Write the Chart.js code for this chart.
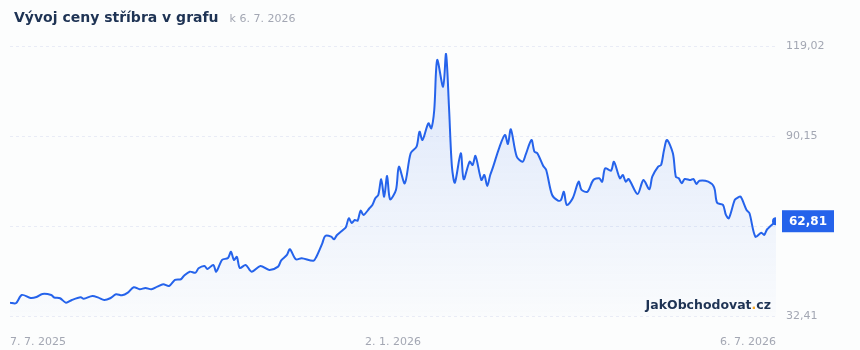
<!DOCTYPE html>
<html lang="cs">
  <head>
    <meta charset="UTF-8" />
    <title>Vývoj ceny stříbra v grafu</title>
    <script src="https://cdn.jsdelivr.net/npm/chart.js"></script>
    <style>
      body {
        margin: 0;
        padding: 0;
        background: #fcfdfd;
        font-family: "DejaVu Sans", sans-serif;
      }
      .wrap {
        position: relative;
        width: 860px;
        height: 350px;
      }
      .title {
        position: absolute;
        left: 14px;
        top: 9px;
        line-height: 16px;
        white-space: nowrap;
      }
      .title b {
        font-size: 14px;
        color: #1e3354;
      }
      .title span {
        font-size: 11px;
        color: #a3a7b3;
        margin-left: 11px;
      }
      canvas {
        position: absolute;
        left: 0;
        top: 0;
      }
    </style>
  </head>
  <body>
    <div class="wrap">
      <canvas id="chart" width="860" height="350"></canvas>
      <div class="title"><b>Vývoj ceny stříbra v grafu</b><span>k 6. 7. 2026</span></div>
    </div>

    <script>
      // trading day index (0 = 7. 7. 2025, 260 = 6. 7. 2026)
      const days = [
        0, 2, 4, 7, 9, 11, 14, 15, 17, 19, 21, 24, 25, 28, 30, 32, 34, 36, 38, 40,
        42, 44, 46, 48, 50, 52, 54, 56, 58, 59, 61, 63, 64, 66, 67, 69, 70, 72, 74, 75,
        76, 77, 78, 80, 82, 85, 88, 91, 92, 94, 95, 97, 99, 103, 104, 106, 107, 109, 110, 111,
        113, 114, 115, 116, 117, 118, 119, 120, 122, 123, 124, 125, 126, 127, 128, 129, 131, 132, 134, 136,
        138, 139, 140, 142, 143, 144, 145, 147, 148, 149, 150, 151, 153, 154, 156, 157, 158, 160, 161, 162,
        163, 164, 166, 168, 169, 170, 172, 174, 175, 177, 178, 179, 181, 182, 184, 186, 187, 188, 189, 191,
        193, 194, 196, 198, 200, 201, 202, 204, 205, 207, 208, 209, 210, 213, 215, 217, 218, 220, 221, 222,
        223, 225, 226, 227, 228, 229, 231, 232, 233, 234, 237, 239, 240, 242, 243, 244, 246, 247, 248, 250,
        251, 253, 255, 256, 257, 260,
      ];
      // cena stříbra (USD/oz)
      const prices = [
        36.69, 36.5, 39.16, 38.2, 38.52, 39.48, 39.16, 38.36, 38.1, 36.69, 37.56, 38.42, 37.97, 38.84, 38.3, 37.56, 38.1, 39.39, 39.06, 39.9,
        41.63, 40.99, 41.41, 40.99, 41.82, 42.59, 42.05, 43.97, 44.2, 45.25, 46.63, 46.31, 47.72, 48.46, 47.5, 48.78, 46.63, 50.39, 51.03, 53.05,
        50.39, 51.35, 47.82, 48.78, 46.63, 48.46, 47.18, 48.24, 50.16, 51.99, 53.82, 50.61, 50.93, 50.16, 51.44, 55.74, 58.08, 57.86, 57.02, 58.4,
        60.01, 60.87, 63.76, 62.25, 63.21, 62.99, 66.2, 64.82, 66.97, 68.03, 70.17, 71.23, 76.27, 70.69, 77.33, 69.85, 72.84, 80.31, 74.98, 84.61,
        86.72, 91.53, 88.87, 94.23, 92.62, 98.49, 114.53, 105.97, 116.45, 99.55, 80.31, 75.18, 84.61, 76.27, 81.91, 80.85, 83.74, 76.04, 77.65, 74.12,
        77.65, 80.31, 86.21, 90.48, 87.59, 92.3, 83.52, 81.91, 84.06, 88.87, 85.12, 84.61, 80.53, 79.25, 71.23, 69.4, 69.63, 72.29, 68.03, 70.17,
        75.5, 72.84, 72.29, 76.04, 76.59, 75.5, 79.8, 79.03, 81.91, 76.59, 77.65, 75.5, 76.36, 71.55, 76.04, 73.06, 77.1, 80.31, 80.85, 85.67,
        88.87, 84.61, 77.1, 76.59, 74.98, 76.36, 76.04, 76.36, 74.76, 75.82, 75.5, 73.7, 68.76, 68.03, 64.82, 63.76, 69.63, 70.37, 70.69, 66.42,
        65.36, 57.86, 59.14, 58.4, 60.23, 62.81,
      ];
      const xTicks = [0, 130, 260];
      const xTickLabels = ["7. 7. 2025", "2. 1. 2026", "6. 7. 2026"];
      const yTicks = [32.41, 61.28, 90.15, 119.02];

      const blue = "#2563eb";
      const lastIdx = prices.length - 1;
      const lastPrice = prices[lastIdx];
      const fmt = (v) => v.toFixed(2).replace(".", ",");

      const badgePlugin = {
        id: "badge",
        afterDatasetsDraw(chart) {
          const { ctx, chartArea } = chart;
          const pt = chart.getDatasetMeta(0).data[lastIdx];
          ctx.save();
          ctx.fillStyle = blue;
          ctx.fillRect(chartArea.right + 6, pt.y - 11, 52, 22);
          ctx.fillStyle = "#fff";
          ctx.font = "bold 12px 'DejaVu Sans'";
          ctx.textAlign = "center";
          ctx.textBaseline = "middle";
          ctx.fillText(fmt(lastPrice), chartArea.right + 32, pt.y + 1);

          // watermark
          ctx.font = "bold 12.5px 'DejaVu Sans'";
          ctx.textAlign = "left";
          ctx.textBaseline = "alphabetic";
          const a = "JakObchodovat", b = ".", c = "cz";
          const w = ctx.measureText(a + b + c).width;
          let x = chartArea.right - 5 - w;
          const y = chartArea.bottom - 7;
          ctx.fillStyle = "#1e3354";
          ctx.fillText(a, x, y);
          x += ctx.measureText(a).width;
          ctx.fillStyle = "#f5a623";
          ctx.fillText(b, x, y);
          x += ctx.measureText(b).width;
          ctx.fillStyle = "#1e3354";
          ctx.fillText(c, x, y);
          ctx.restore();
        },
      };

      new Chart(document.getElementById("chart"), {
        type: "line",
        data: {
          datasets: [
            {
              data: days.map((d, i) => ({ x: d, y: prices[i] })),
              borderColor: blue,
              borderWidth: 2,
              tension: 0.3,
              fill: "start",
              backgroundColor: (ctx) => {
                const area = ctx.chart.chartArea;
                if (!area) return "rgba(37,99,235,0.08)";
                const g = ctx.chart.ctx.createLinearGradient(0, area.top, 0, area.bottom);
                g.addColorStop(0, "rgba(37,99,235,0.15)");
                g.addColorStop(1, "rgba(37,99,235,0.01)");
                return g;
              },
              pointRadius: (ctx) => (ctx.dataIndex === lastIdx ? 4 : 0),
              pointBackgroundColor: blue,
              pointBorderWidth: 0,
            },
          ],
        },
        options: {
          responsive: false,
          animation: false,
          layout: { padding: { top: 46, left: 10, right: 0, bottom: 0 } },
          plugins: {
            legend: { display: false },
            tooltip: { enabled: false },
          },
          scales: {
            x: {
              type: "linear",
              min: 0,
              max: 260,
              afterBuildTicks: (s) => {
                s.ticks = xTicks.map((v) => ({ value: v }));
              },
              afterFit: (s) => {
                s.height = 34;
                s.paddingLeft = 0;
                s.paddingRight = 0;
              },
              grid: { display: false, drawTicks: false },
              border: { display: false },
              ticks: {
                align: "inner",
                maxRotation: 0,
                autoSkip: false,
                padding: 20,
                color: "#a3a7b3",
                font: { family: "DejaVu Sans", size: 11 },
                callback: (v) => xTickLabels[xTicks.indexOf(v)],
              },
            },
            y: {
              position: "right",
              min: 32.41,
              max: 119.02,
              afterBuildTicks: (s) => {
                s.ticks = yTicks.map((v) => ({ value: v }));
              },
              afterFit: (s) => {
                s.width = 84;
              },
              grid: {
                color: "#e9ecf6",
                drawTicks: false,
              },
              border: { display: false, dash: [3, 3] },
              ticks: {
                padding: 10,
                color: "#a3a7b3",
                font: { family: "DejaVu Sans", size: 11 },
                callback: (v) => (Math.abs(v - lastPrice) < 3 ? "" : fmt(v)),
              },
            },
          },
        },
        plugins: [badgePlugin],
      });
    </script>
  </body>
</html>
